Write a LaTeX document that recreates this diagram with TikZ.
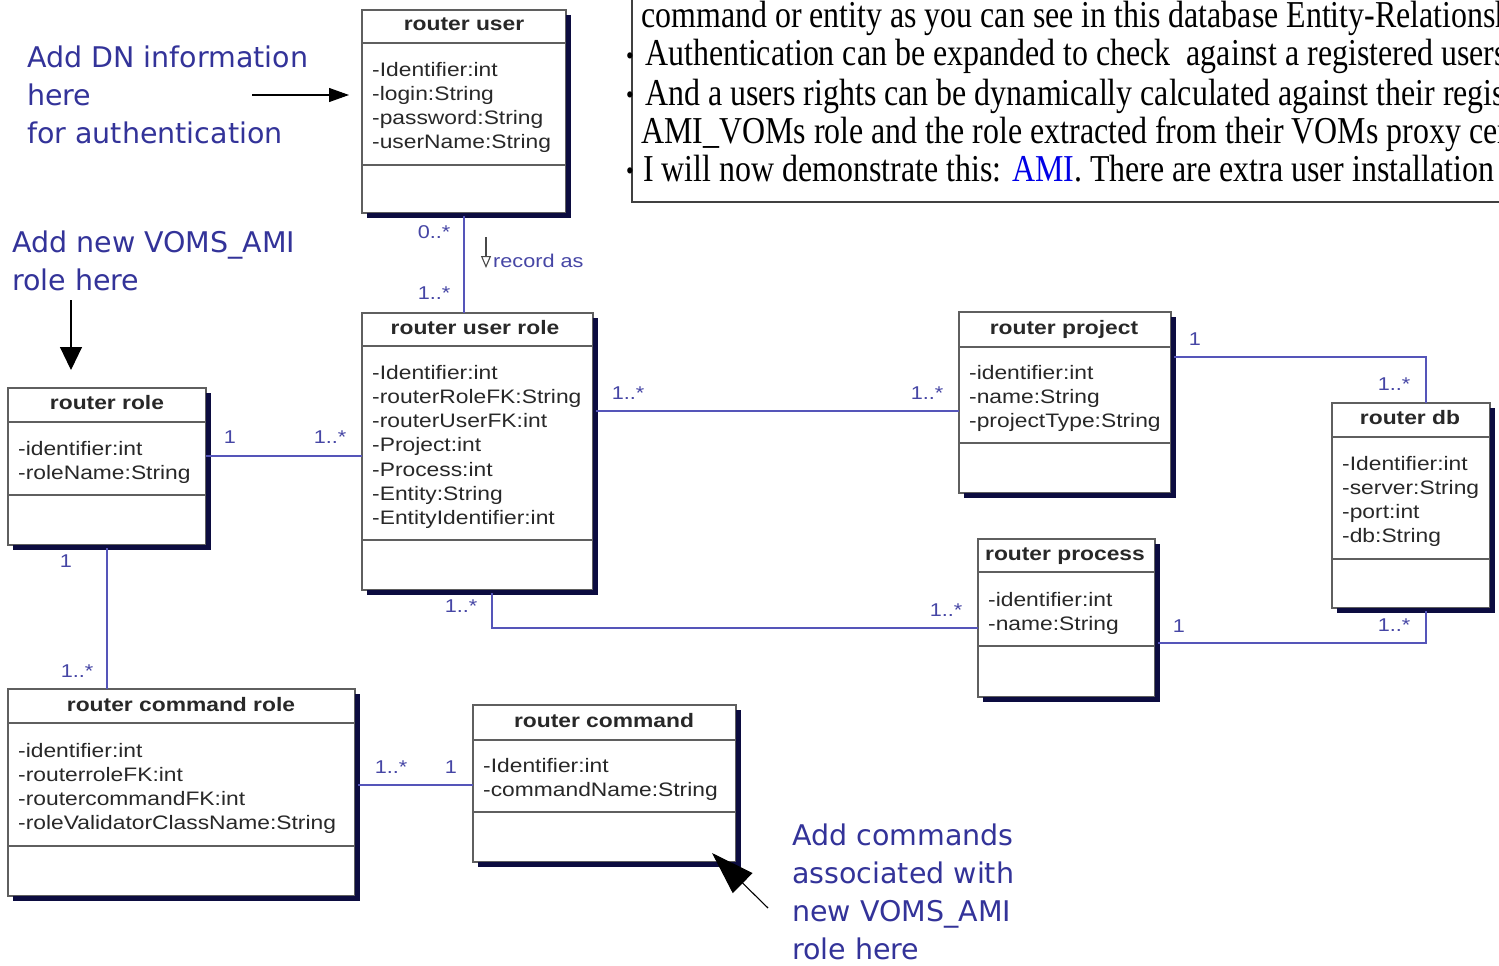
\documentclass[tikz,border=0pt]{standalone}
\usepackage{fontspec}
\setmainfont{Liberation Serif}
\newfontfamily\umlfont{Liberation Sans}[FakeStretch=1.17]
\newfontfamily\notefont{DejaVu Sans}
\newfontfamily\slidefont{Liberation Serif}[FakeStretch=0.84]
\usetikzlibrary{arrows.meta}
\definecolor{boxgray}{RGB}{95,95,95}
\definecolor{navy}{RGB}{12,12,64}
\definecolor{assoccol}{RGB}{85,85,185}
\definecolor{labelcol}{RGB}{70,70,165}
\definecolor{textgray}{RGB}{40,40,40}
\definecolor{notecol}{RGB}{51,51,153}
\definecolor{amiblue}{RGB}{0,0,230}
\newcommand\umlshadow[1]{\draw[shadowline] ([shift={(2.6pt,-5pt)}]#1.north east) -- ([shift={(2.6pt,-2.6pt)}]#1.south east) -- ([shift={(5pt,-2.6pt)}]#1.south west);}
\begin{document}
\begin{tikzpicture}[x=1pt,y=-1pt,
 umlbox/.style={draw=boxgray, line width=1.3pt, fill=white, inner sep=0pt, outer sep=0pt, anchor=north west},
 boxline/.style={draw=boxgray, line width=1.3pt},
 shadowline/.style={draw=navy, line width=4.5pt},
 assoc/.style={draw=assoccol, line width=1.6pt},
 mult/.style={font=\umlfont\fontsize{18.5}{22}\selectfont, text=labelcol, inner sep=0pt},
 umltitle/.style={font=\umlfont\bfseries\fontsize{19.5}{22}\selectfont, text=textgray, inner sep=0pt, anchor=base},
 attrs/.style={font=\umlfont\fontsize{19.5}{24.3}\selectfont, text=textgray, inner sep=0pt, anchor=base west, align=left},
 note/.style={font=\notefont\fontsize{28.5}{38.3}\selectfont, text=notecol, inner sep=0pt, anchor=base west, align=left},
 slide/.style={font=\slidefont\fontsize{38}{38}\selectfont, inner sep=0pt, anchor=base west},
 bulletnode/.style={font=\slidefont\fontsize{26}{26}\selectfont, inner sep=0pt, anchor=base},
 notearrow/.style={draw=black, line width=1.1pt},
]
\useasboundingbox (0,0) rectangle (1499,966);
\clip (0,0) rectangle (1499,966);
\fill[white] (0,0) rectangle (1499,966);

% ---------- slide text box ----------
\draw[draw=black!75, line width=1.2pt] (1510,-5) -- (632,-5) -- (632,202) -- (1510,202);
\node[slide] (t1) at (641,28) {command or entity as you can see in this database Entity-Relationsh};
\node[slide] (t2) at (645,66) {Authentication can be expanded to check\ \ against a registered users};
\node[slide] (t3) at (645,105) {And a users rights can be dynamically calculated against their regis};
\node[slide] (t4) at (641,143) {AMI\_VOMs role and the role extracted from their VOMs proxy cer};
\node[slide] (t5) at (643,181) {I will now demonstrate this: \textcolor{amiblue}{AMI}. There are extra user installation};
\node[bulletnode] (b2) at (630,64) {•};
\node[bulletnode] (b3) at (630,103) {•};
\node[bulletnode] (b5) at (630,179) {•};

% ---------- classes (attribute nodes are placed at the baseline of their LAST line) ----------
% router user
\node[umlbox, minimum width=204pt, minimum height=203pt] (ru) at (362,10) {};
\draw[boxline] (ru.west |- 0,43) -- (ru.east |- 0,43) (ru.west |- 0,165) -- (ru.east |- 0,165);
\umlshadow{ru}
\node[umltitle] (ru-t) at (464,31) {router user};
\node[attrs] (ru-a) at (372,148.9) {-Identifier:int\\-login:String\\-password:String\\-userName:String};

% router user role
\node[umlbox, minimum width=231pt, minimum height=277pt] (rur) at (362,313) {};
\draw[boxline] (rur.west |- 0,346) -- (rur.east |- 0,346) (rur.west |- 0,540) -- (rur.east |- 0,540);
\umlshadow{rur}
\node[umltitle] (rur-t) at (475,334) {router user role};
\node[attrs] (rur-a) at (372,524.8) {-Identifier:int\\-routerRoleFK:String\\-routerUserFK:int\\-Project:int\\-Process:int\\-Entity:String\\-EntityIdentifier:int};

% router role
\node[umlbox, minimum width=198pt, minimum height=157pt] (rr) at (8,388) {};
\draw[boxline] (rr.west |- 0,422) -- (rr.east |- 0,422) (rr.west |- 0,495) -- (rr.east |- 0,495);
\umlshadow{rr}
\node[umltitle] (rr-t) at (107,409) {router role};
\node[attrs] (rr-a) at (18,479.3) {-identifier:int\\-roleName:String};

% router project
\node[umlbox, minimum width=212pt, minimum height=181pt] (rp) at (959,312) {};
\draw[boxline] (rp.west |- 0,347) -- (rp.east |- 0,347) (rp.west |- 0,443) -- (rp.east |- 0,443);
\umlshadow{rp}
\node[umltitle] (rp-t) at (1064,334) {router project};
\node[attrs] (rp-a) at (969,427.6) {-identifier:int\\-name:String\\-projectType:String};

% router db
\node[umlbox, minimum width=158pt, minimum height=205pt] (rdb) at (1332,403) {};
\draw[boxline] (rdb.west |- 0,437) -- (rdb.east |- 0,437) (rdb.west |- 0,559) -- (rdb.east |- 0,559);
\umlshadow{rdb}
\node[umltitle] (rdb-t) at (1410,424) {router db};
\node[attrs] (rdb-a) at (1342,542.9) {-Identifier:int\\-server:String\\-port:int\\-db:String};

% router process
\node[umlbox, minimum width=177pt, minimum height=158pt] (rpr) at (978,539) {};
\draw[boxline] (rpr.west |- 0,572) -- (rpr.east |- 0,572) (rpr.west |- 0,646) -- (rpr.east |- 0,646);
\umlshadow{rpr}
\node[umltitle] (rpr-t) at (1065,560) {router process};
\node[attrs] (rpr-a) at (988,630.3) {-identifier:int\\-name:String};

% router command role
\node[umlbox, minimum width=347pt, minimum height=207pt] (rcr) at (8,689) {};
\draw[boxline] (rcr.west |- 0,723) -- (rcr.east |- 0,723) (rcr.west |- 0,846) -- (rcr.east |- 0,846);
\umlshadow{rcr}
\node[umltitle] (rcr-t) at (181,711) {router command role};
\node[attrs] (rcr-a) at (18,829.9) {-identifier:int\\-routerroleFK:int\\-routercommandFK:int\\-roleValidatorClassName:String};

% router command
\node[umlbox, minimum width=263pt, minimum height=157pt] (rc) at (473,705) {};
\draw[boxline] (rc.west |- 0,740) -- (rc.east |- 0,740) (rc.west |- 0,812) -- (rc.east |- 0,812);
\umlshadow{rc}
\node[umltitle] (rc-t) at (604,727) {router command};
\node[attrs] (rc-a) at (483,796.3) {-Identifier:int\\-commandName:String};

% ---------- associations ----------
\draw[assoc] ([yshift=-3pt]ru.south) -- (ru.south |- rur.north);
\draw[assoc] (rr.east |- 0,456) -- (rur.west |- 0,456);
\draw[assoc] ([yshift=-3pt]rr.south) -- (rr.south |- rcr.north);
\draw[assoc] ([xshift=3pt]rur.east |- 0,411) -- (rp.west |- 0,411);
\draw[assoc] ([yshift=-3pt]rur.south -| 492,0) |- (rpr.west |- 0,628);
\draw[assoc] ([xshift=3pt]rp.east |- 0,357) -| ([xshift=15pt]rdb.north);
\draw[assoc] ([xshift=3pt]rpr.east |- 0,643) -| ([xshift=15pt,yshift=-3pt]rdb.south);
\draw[assoc] ([xshift=3pt]rcr.east |- 0,785) -- (rc.west |- 0,785);

% record-as direction arrow
\coordinate (ra1) at (486,237);
\coordinate (ra2) at (486,268);
\draw[draw=textgray!85, line width=1.1pt, -{Triangle[open, length=12pt, width=10pt]}] (ra1) -- (ra2);
\node[mult, anchor=west] (rec) at (493,261) {record as};

% multiplicities
\node[mult] (m1) at (434,232) {0..*};
\node[mult] (m2) at (434,293) {1..*};
\node[mult] (m3) at (230,437) {1};
\node[mult] (m4) at (330,437) {1..*};
\node[mult] (m5) at (66,561) {1};
\node[mult] (m6) at (77,671) {1..*};
\node[mult] (m7) at (628,393) {1..*};
\node[mult] (m8) at (927,393) {1..*};
\node[mult] (m9) at (461,606) {1..*};
\node[mult] (m10) at (946,610) {1..*};
\node[mult] (m11) at (1195,339) {1};
\node[mult] (m12) at (1394,384) {1..*};
\node[mult] (m13) at (1179,626) {1};
\node[mult] (m14) at (1394,625) {1..*};
\node[mult] (m15) at (391,767) {1..*};
\node[mult] (m16) at (451,767) {1};

% ---------- annotations (placed at baseline of last line) ----------
\node[note] (n1) at (27,143.6) {Add DN information\\here\\for authentication};
\node[note] (n2) at (12,290.3) {Add new VOMS\_AMI\\role here};
\node[note] (n3) at (792,959.9) {Add commands\\associated with\\new VOMS\_AMI\\role here};

\coordinate (a1s) at (252,95);
\coordinate (a1e) at (349,95);
\draw[notearrow, -{Triangle[length=20pt, width=14pt]}] (a1s) -- (a1e);
\coordinate (a2s) at (71,300);
\coordinate (a2e) at (71,370);
\draw[notearrow, -{Triangle[length=23pt, width=22pt]}] (a2s) -- (a2e);
\coordinate (a3s) at (768,908);
\coordinate (a3e) at (712,853);
\draw[notearrow, -{Triangle[length=43pt, width=28pt]}] (a3s) -- (a3e);
\end{tikzpicture}
\end{document}
